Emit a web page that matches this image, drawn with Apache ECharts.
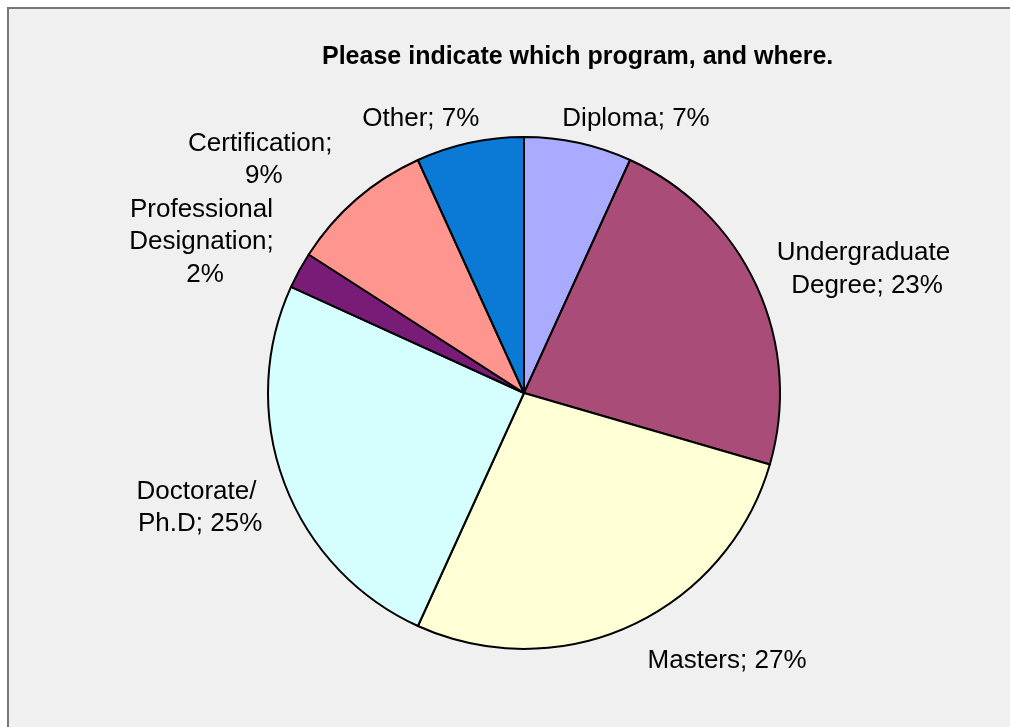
<!DOCTYPE html>
<html>
<head>
<meta charset="utf-8">
<script src="https://cdn.jsdelivr.net/npm/echarts@6/dist/echarts.min.js"></script>
<style>
  html, body { margin: 0; padding: 0; background: #ffffff; overflow: hidden; }
  #chart { width: 1010px; height: 727px; }
</style>
</head>
<body>
<div id="chart"></div>
<script>
// Programme categories, clockwise from 12 o'clock
const categories = ['Diploma', 'Undergraduate Degree', 'Masters', 'Doctorate/ Ph.D',
                    'Professional Designation', 'Certification', 'Other'];
// Share of responses (percent)
const shares = [6.8, 22.7, 27.3, 25.0, 2.3, 9.1, 6.8];
const chartTitle = 'Please indicate which program, and where.';

// Slice fills
const sliceColors = ['#aaaaff', '#a94c78', '#ffffd5', '#d5ffff', '#781c78', '#ff958f', '#0a7ad6'];
// Label anchor per slice: [angle clockwise from 12 o'clock (deg), distance from pie centre (px)]
const labelSpots = [[22.2, 296.5], [70.2, 364.6], [142.8, 335.8], [250.5, 343.6],
                    [295.3, 352.7], [311.9, 349.5], [339.4, 293.2]];

const PIE_CENTER = [524, 393];
const PIE_RADIUS = 256;
const FONT = '"Liberation Sans", Arial, Helvetica, sans-serif';

const chart = echarts.init(document.getElementById('chart'), null, { renderer: 'canvas' });

chart.setOption({
  animation: false,
  backgroundColor: '#ffffff',
  // chart area panel: grey fill with a frame on its top and left edges
  graphic: [{
    type: 'rect',
    silent: true,
    z: -10,
    shape: { x: 8, y: 8, width: 1010, height: 727 },
    style: { fill: '#f0f0f0' }
  }, {
    type: 'polyline',
    silent: true,
    z: -9,
    shape: { points: [[8, 727], [8, 8], [1010, 8]] },
    style: { stroke: '#777777', lineWidth: 2, fill: null }
  }],
  title: {
    text: chartTitle,
    left: 317,
    top: 40,
    padding: 5,
    textStyle: { fontFamily: FONT, fontSize: 25, fontWeight: 'bold', color: '#000000' }
  },
  series: [{
    type: 'pie',
    center: PIE_CENTER,
    radius: PIE_RADIUS,
    startAngle: 90,
    clockwise: true,
    avoidLabelOverlap: false,
    percentPrecision: 0,
    data: categories.map((name, i) => ({
      name: name,
      value: shares[i],
      itemStyle: { color: sliceColors[i] }
    })),
    itemStyle: { borderColor: '#000000', borderWidth: 2 },
    label: {
      show: true,
      position: 'outside',
      formatter: '{b}; {d}%',
      fontFamily: FONT,
      fontSize: 26,
      lineHeight: 32.5,
      color: '#000000',
      width: 182,
      overflow: 'break',
      align: 'center'
    },
    labelLine: { show: false },
    labelLayout: function (p) {
      const spot = labelSpots[p.dataIndex];
      const a = spot[0] * Math.PI / 180;
      return {
        x: PIE_CENTER[0] + spot[1] * Math.sin(a),
        y: PIE_CENTER[1] - spot[1] * Math.cos(a),
        align: 'center',
        verticalAlign: 'middle'
      };
    },
    emphasis: { disabled: true }
  }]
});
</script>
</body>
</html>
